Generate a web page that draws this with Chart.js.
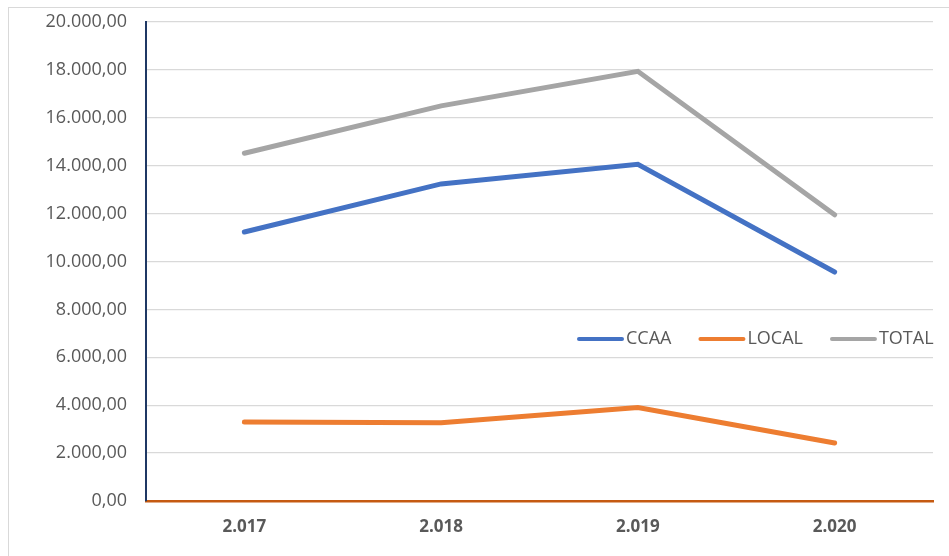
<!DOCTYPE html>
<html>
<head>
<meta charset="utf-8">
<script src="https://cdn.jsdelivr.net/npm/chart.js@4"></script>
<style>
  html, body { margin: 0; padding: 0; background: #fff; overflow: hidden; }
  #wrap { position: relative; width: 949px; height: 556px; }
  #frame { position: absolute; left: 8px; top: 7px; width: 960px; height: 570px; border: 1px solid #d9d9d9; }
  canvas { position: absolute; left: 0; top: 0; }
</style>
</head>
<body>
<div id="wrap">
  <div id="frame"></div>
  <canvas id="chart" width="949" height="556"></canvas>
</div>
<script>
// data
const years = ["2.017", "2.018", "2.019", "2.020"];
const ccaa = [11230, 13240, 14060, 9560];
const local = [3300, 3270, 3900, 2420];
const total = [14520, 16500, 17940, 11950];

const FONT = "'Open Sans', sans-serif";
const TEXT = "#595959";

function fmt(v) {
  const parts = Number(v).toFixed(2).split(".");
  const intPart = parts[0].replace(/\B(?=(\d{3})+(?!\d))/g, ".");
  return intPart + "," + parts[1];
}

// legend drawn inside the plot, on the right
const innerLegend = {
  id: "innerLegend",
  afterDraw(chart) {
    const ctx = chart.ctx;
    let x = 577;
    const y = 339;
    ctx.save();
    ctx.font = "18px " + FONT;
    ctx.textBaseline = "middle";
    chart.data.datasets.forEach((ds) => {
      ctx.strokeStyle = ds.borderColor;
      ctx.lineWidth = 4;
      ctx.lineCap = "round";
      ctx.beginPath();
      ctx.moveTo(x + 2, y);
      ctx.lineTo(x + 45, y);
      ctx.stroke();
      ctx.fillStyle = TEXT;
      ctx.fillText(ds.label, x + 49, y);
      x += 49 + ctx.measureText(ds.label).width + 27;
    });
    ctx.restore();
  },
};

const lineStyle = {
  borderWidth: 5,
  pointRadius: 0,
  borderCapStyle: "round",
  borderJoinStyle: "miter",
  tension: 0,
};

new Chart(document.getElementById("chart"), {
  type: "line",
  data: {
    labels: years,
    datasets: [
      { label: "CCAA", data: ccaa, borderColor: "#4472C4", ...lineStyle },
      { label: "LOCAL", data: local, borderColor: "#ED7D31", ...lineStyle },
      { label: "TOTAL", data: total, borderColor: "#A5A5A5", ...lineStyle },
    ],
  },
  options: {
    responsive: false,
    animation: false,
    layout: { padding: { top: 22, right: 16, left: 0, bottom: 0 } },
    plugins: {
      legend: { display: false },
      tooltip: { enabled: false },
    },
    scales: {
      x: {
        offset: true,
        grid: { display: false, drawTicks: false },
        border: { color: "#C55A11", width: 2.5 },
        ticks: {
          color: TEXT,
          font: { family: FONT, size: 17, weight: "bold" },
          padding: 16,
        },
        afterFit(scale) {
          scale.height = 55;
          scale.paddingLeft = 0;
          scale.paddingRight = 0;
        },
      },
      y: {
        min: 0,
        max: 20000,
        grid: { color: "#d9d9d9", lineWidth: 1.3, drawTicks: false },
        border: { color: "#1F3864", width: 2 },
        ticks: {
          stepSize: 2000,
          color: TEXT,
          font: { family: FONT, size: 18 },
          padding: 19,
          callback: (v) => fmt(v),
        },
        afterFit(scale) {
          scale.width = 146;
          scale.paddingTop = 0;
          scale.paddingBottom = 0;
        },
      },
    },
  },
  plugins: [innerLegend],
});
</script>
</body>
</html>
